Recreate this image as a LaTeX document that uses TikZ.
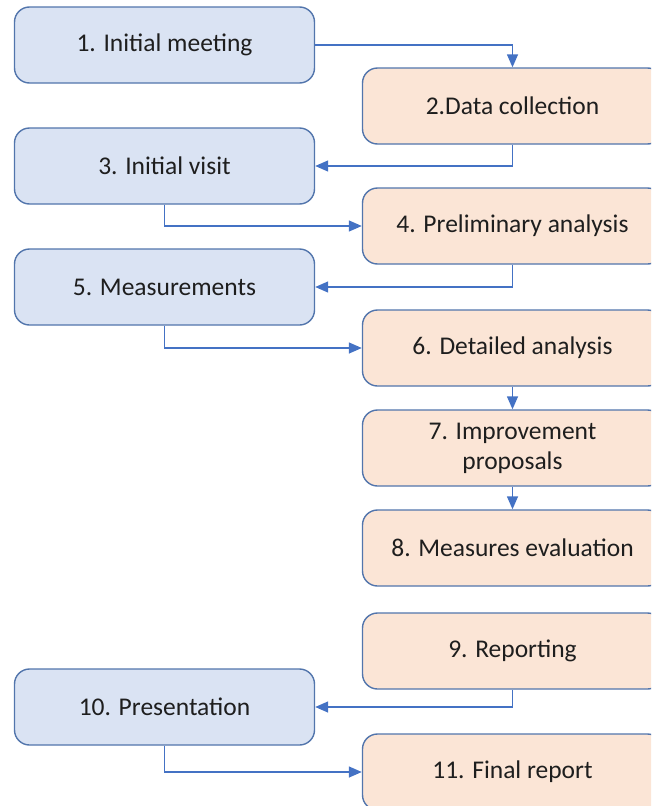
\documentclass[tikz,border=0pt]{standalone}
\usepackage{fontspec}
\setmainfont{Carlito}
\usepackage{xcolor}
\usetikzlibrary{arrows.meta}
\definecolor{boxblue}{HTML}{DAE3F3}
\definecolor{boxorange}{HTML}{FBE5D6}
\definecolor{boxline}{HTML}{5275AC}
\definecolor{arrowblue}{HTML}{4472C4}
\definecolor{textgray}{HTML}{1E1E1E}

\begin{document}
\begin{tikzpicture}[x=1pt, y=-1pt,
  stepbox/.style={draw=boxline, line width=1.4pt, rounded corners=15pt,
    minimum width=300pt, minimum height=76pt, align=center,
    text=textgray, font=\fontsize{25.5}{30}\selectfont},
  leftbox/.style={stepbox, fill=boxblue},
  rightbox/.style={stepbox, fill=boxorange},
  link/.style={draw=arrowblue, line width=1.4pt, -{Triangle[length=13pt,width=11pt]}}]
\useasboundingbox (0,0) rectangle (651,806);
\clip (0,0) rectangle (651,806);

% left column
\node[leftbox] (n1) at (164.5,45) {1. Initial meeting};
\node[leftbox] (n3) at (164.5,166) {3. Initial visit};
\node[leftbox] (n5) at (164.5,287) {5. Measurements};
\node[leftbox] (n10) at (164.5,707) {10. Presentation};

% right column
\node[rightbox] (n2) at (512.5,106) {2.Data collection};
\node[rightbox] (n4) at (512.5,226) {4. Preliminary analysis};
\node[rightbox] (n6) at (512.5,348) {6. Detailed analysis};
\node[rightbox] (n7) at (512.5,448) {7. Improvement\\proposals};
\node[rightbox] (n8) at (512.5,548) {8. Measures evaluation};
\node[rightbox] (n9) at (512.5,651) {9. Reporting};
\node[rightbox] (n11) at (512.5,772) {11. Final report};

\draw[link] (n1.east) -| (n2.north);
\draw[link] (n2.south) |- (n3.east);
\draw[link] (n3.south) |- (n4.west);
\draw[link] (n4.south) |- (n5.east);
\draw[link] (n5.south) |- (n6.west);
\draw[link] (n6) -- (n7);
\draw[link] (n7) -- (n8);
\draw[link] (n9.south) |- (n10.east);
\draw[link] (n10.south) |- (n11.west);
\end{tikzpicture}
\end{document}
